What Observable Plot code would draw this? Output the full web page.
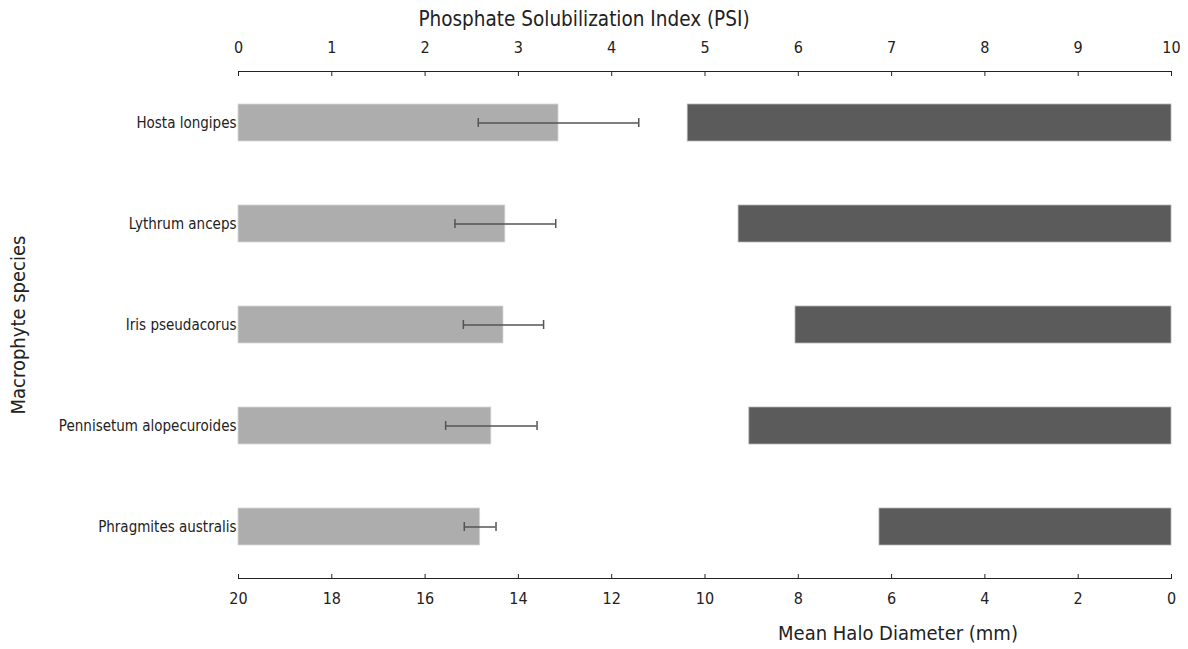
<!DOCTYPE html>
<html>
<head>
<meta charset="utf-8">
<script src="https://cdn.jsdelivr.net/npm/d3@7"></script>
<script src="https://cdn.jsdelivr.net/npm/@observablehq/plot@0.6"></script>
<style>
  html, body { margin: 0; padding: 0; background: white; }
  #wrap { position: relative; width: 1188px; height: 649px; }
  #wrap svg { position: absolute; left: 0; top: 0; }
</style>
</head>
<body>
<div id="wrap"></div>
<script>
const species = ["Hosta longipes", "Lythrum anceps", "Iris pseudacorus", "Pennisetum alopecuroides", "Phragmites australis"];
const psi = [3.43, 2.86, 2.84, 2.71, 2.59];
const psiErr = [0.86, 0.54, 0.43, 0.49, 0.17];
const halo = [10.37, 9.28, 8.06, 9.05, 6.26];
const psiTicks = [0, 1, 2, 3, 4, 5, 6, 7, 8, 9, 10];
const haloTicks = [20, 18, 16, 14, 12, 10, 8, 6, 4, 2, 0];

const rows = species.map((s, i) => ({species: s, psi: psi[i], err: psiErr[i], halo: halo[i]}));

const FONT = "'DejaVu Sans Condensed', 'DejaVu Sans', sans-serif";
const W = 1188, H = 649;
const common = {
  width: W, height: H,
  marginTop: 71, marginBottom: 71, marginLeft: 238, marginRight: 17,
  y: {domain: species, paddingInner: 0.638, paddingOuter: 0.319, axis: null},
};

// Dark bars: Mean Halo Diameter (reversed axis, bottom)
const halo_plot = Plot.plot({
  ...common,
  style: {fontFamily: FONT, fontSize: "16px", color: "#222", background: "white"},
  x: {domain: [20, 0], axis: null},
  marks: [
    Plot.barX(rows, {y: "species", x1: 0, x2: "halo", fill: "#5b5b5b", stroke: "#b5b5b5", strokeWidth: 0.8}),
    Plot.frame({anchor: "bottom", stroke: "#222"}),
    Plot.axisX({anchor: "bottom", ticks: haloTicks, tickSize: -4, tickPadding: 18, fontSize: 16, label: null, stroke: "#222"}),
    Plot.text(["Mean Halo Diameter (mm)"], {frameAnchor: "bottom", dx: 193, dy: 61, fontSize: 20, fill: "#222"}),
    Plot.text(["Macrophyte species"], {frameAnchor: "left", textAnchor: "middle", dx: -220, rotate: -90, fontSize: 20, fill: "#222"})
  ]
});

// Light bars: PSI (top axis)
const psi_plot = Plot.plot({
  ...common,
  style: {fontFamily: FONT, fontSize: "16px", color: "#222", background: "transparent"},
  x: {domain: [0, 10], axis: null},
  marks: [
    Plot.barX(rows, {y: "species", x1: 0, x2: "psi", fill: "#adadad", stroke: "#d6d6d6", strokeWidth: 0.8}),
    Plot.ruleY(rows, {y: "species", x1: d => d.psi - d.err, x2: d => d.psi + d.err, stroke: "#555", strokeWidth: 1.5}),
    Plot.tickX(rows, {y: "species", x: d => d.psi - d.err, stroke: "#555", strokeWidth: 1.5, insetTop: 14, insetBottom: 14}),
    Plot.tickX(rows, {y: "species", x: d => d.psi + d.err, stroke: "#555", strokeWidth: 1.5, insetTop: 14, insetBottom: 14}),
    Plot.frame({anchor: "top", stroke: "#222"}),
    Plot.axisX({anchor: "top", ticks: psiTicks, tickSize: -4, tickPadding: 23, fontSize: 16, label: null, stroke: "#222"}),
    Plot.axisY({anchor: "left", tickSize: 0, tickPadding: 2, fontSize: 15, label: null}),
    Plot.text(["Phosphate Solubilization Index (PSI)"], {frameAnchor: "top", dx: -121, dy: -60, fontSize: 20.5, fill: "#222"})
  ]
});

const wrap = document.getElementById("wrap");
wrap.appendChild(halo_plot);
wrap.appendChild(psi_plot);
</script>
</body>
</html>
